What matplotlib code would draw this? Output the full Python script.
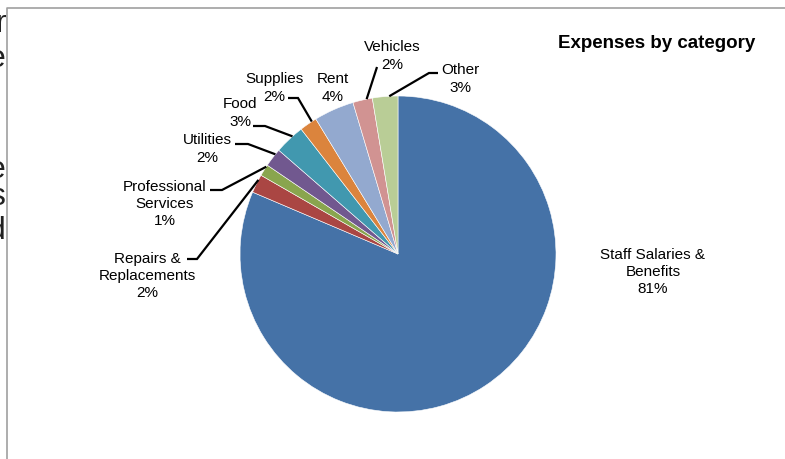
import matplotlib
matplotlib.use('Agg')
import matplotlib.pyplot as plt
import numpy as np

plt.rcParams.update({
    'font.family': ['Liberation Sans', 'DejaVu Sans'],
})

# data: share of expenses (%), clockwise from 12 o'clock
categories = ['Staff Salaries &\nBenefits', 'Repairs &\nReplacements',
              'Professional\nServices', 'Utilities', 'Food', 'Supplies',
              'Rent', 'Vehicles', 'Other']
shares = [81.4, 1.9, 1.2, 1.9, 3.1, 1.8, 4.1, 2.0, 2.6]

colors = ['#4572A7', '#AA4643', '#89A54E', '#71588F', '#4198AF',
          '#DB843D', '#93A9CF', '#D19392', '#B9CD96']

W, H = 785, 460

# label layout in pixel coords (x, y from top)
label_pos = [(653, 272), (147, 276), (165, 204), (207, 149), (240, 113),
             (274, 88), (333, 88), (392, 56), (460, 79)]
# leader lines: (start of horizontal tick, elbow) or None
leaders = [None, ((187, 260), (197, 260)), ((210, 191), (222, 191)),
           ((235, 145), (248, 145)), ((253, 127), (265, 127)),
           ((288, 99), (298, 99)), None, ((377, 68), (377, 68)),
           ((438, 74), (429, 74))]

fig = plt.figure(figsize=(7.85, 4.6), dpi=100)
ax = fig.add_axes([0, 0, 1, 1])

cx, cy, r = 398, H - 255, 158
wedges, _ = ax.pie(shares, colors=colors, startangle=90, counterclock=False,
                   center=(cx, cy), radius=r,
                   wedgeprops=dict(edgecolor='white', linewidth=0.4))

ax.set_xlim(0, W)
ax.set_ylim(0, H)
ax.set_aspect('equal')
ax.axis('off')

for w, name, v, (lx, ly), ld in zip(wedges, categories, shares, label_pos, leaders):
    ax.text(lx, H - ly, f'{name}\n{v:.0f}%', ha='center', va='center',
            fontsize=11, linespacing=1.3, color='black')
    if ld is None:
        continue
    # Excel anchors leaders a bit clockwise of the wedge middle
    mid = np.deg2rad((w.theta1 + w.theta2) / 2 - 1.5)
    ax_, ay_ = cx + r * np.cos(mid), cy + r * np.sin(mid)
    (sx, sy), (ex, ey) = ld
    ax.plot([sx, ex, ax_], [H - sy, H - ey, ay_], color='black', lw=1.6,
            solid_capstyle='butt', solid_joinstyle='miter')

ax.text(657, H - 43, 'Expenses by category', ha='center', va='center',
        fontsize=13.5, fontweight='bold')

# chart frame (top + left edge)
ax.plot([7, 7, W], [0, H - 9, H - 9], color='#A0A0A0', lw=1.2, clip_on=False)

# fragments of the surrounding document text at the left edge
for ch, x, y in [('r', 7, 32), ('e', 5, 67), ('e', 5, 178), ('s', 5, 205), ('d', 5, 239)]:
    ax.text(x, H - y, ch, ha='right', va='baseline', fontsize=23, color='#222222')

fig.savefig('out.png', dpi=100, facecolor='white')
